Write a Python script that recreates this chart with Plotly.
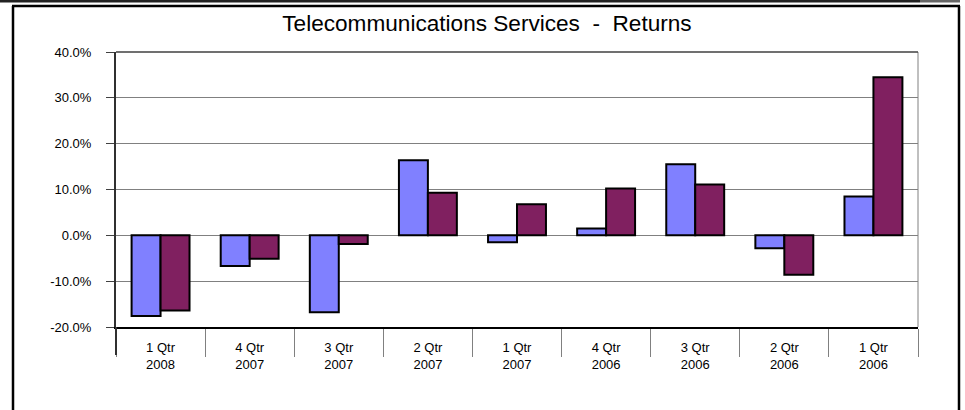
import plotly.graph_objects as go

# Quarterly returns, most recent quarter first
quarters = ["1 Qtr<br>2008", "4 Qtr<br>2007", "3 Qtr<br>2007", "2 Qtr<br>2007",
            "1 Qtr<br>2007", "4 Qtr<br>2006", "3 Qtr<br>2006", "2 Qtr<br>2006",
            "1 Qtr<br>2006"]
portfolio_returns = [-17.6, -6.7, -16.8, 16.4, -1.5, 1.5, 15.5, -2.8, 8.5]
sector_returns = [-16.4, -5.1, -1.9, 9.3, 6.8, 10.2, 11.1, -8.6, 34.5]
y_ticks = [-20, -10, 0, 10, 20, 30, 40]
y_tick_labels = [f"{v:.1f}%" for v in y_ticks]

W, H = 965, 410
L, R, T, B = 116, 47, 52, 83
pw, ph = W - L - R, H - T - B


def px_x(p):
    return (p - L) / pw


def px_y(p):
    return (H - B - p) / ph


fig = go.Figure()
fig.add_trace(go.Bar(
    x=quarters, y=[v / 100 for v in portfolio_returns], name="Portfolio",
    marker=dict(color="#8080FF", line=dict(color="#000000", width=2)),
))
fig.add_trace(go.Bar(
    x=quarters, y=[v / 100 for v in sector_returns], name="Sector",
    marker=dict(color="#802060", line=dict(color="#000000", width=2)),
))

font = "Arial, Liberation Sans, sans-serif"

fig.update_layout(
    width=W, height=H,
    margin=dict(l=L, r=R, t=T, b=B, pad=0),
    paper_bgcolor="white", plot_bgcolor="white",
    showlegend=False,
    barmode="group", bargap=0.35, bargroupgap=0,
    font=dict(family=font, color="#000000"),
    title=dict(text="Telecommunications Services  -  Returns",
               x=487 / W, xanchor="center", xref="container",
               y=1 - 23 / H, yanchor="middle", yref="container",
               font=dict(size=22.6, family=font, color="#000000")),
    xaxis=dict(
        type="category", tickson="boundaries",
        ticks="outside", ticklen=28, tickcolor="#808080", tickwidth=1,
        showline=True, linecolor="#000000", linewidth=2,
        showgrid=False, zeroline=False,
        tickfont=dict(size=13, family=font, color="#000000"),
        ticklabelstandoff=7,
        range=[-0.5, len(quarters) - 0.5],
    ),
    yaxis=dict(
        range=[y_ticks[0] / 100, y_ticks[-1] / 100],
        tickvals=[v / 100 for v in y_ticks], ticktext=y_tick_labels,
        ticks="outside", ticklen=8, tickcolor="#404040", tickwidth=1,
        showline=True, linecolor="#303030", linewidth=2,
        showgrid=True, gridcolor="#808080", gridwidth=1,
        zeroline=True, zerolinecolor="#808080", zerolinewidth=1,
        tickfont=dict(size=13, family=font, color="#000000"),
        ticklabelstandoff=12,
    ),
)

shapes = [
    # right edge of plot area
    dict(type="line", xref="paper", yref="paper", x0=1, x1=1, y0=0, y1=1,
         line=dict(color="#808080", width=1)),
    # top edge of plot area
    dict(type="line", xref="paper", yref="paper", x0=0, x1=1, y0=1, y1=1,
         line=dict(color="#404040", width=1.5)),
    # left axis line continued through the category band
    dict(type="line", xref="paper", yref="paper", x0=0, x1=0,
         y0=px_y(355), y1=0, line=dict(color="#303030", width=2)),
    # chart frame
    dict(type="line", xref="paper", yref="paper",
         x0=px_x(13), x1=px_x(13), y0=px_y(6), y1=px_y(H + 10),
         line=dict(color="#000000", width=2.5)),
    dict(type="line", xref="paper", yref="paper",
         x0=px_x(959), x1=px_x(959), y0=px_y(6), y1=px_y(H + 10),
         line=dict(color="#000000", width=2.5)),
    dict(type="line", xref="paper", yref="paper",
         x0=px_x(12), x1=px_x(960), y0=px_y(6), y1=px_y(6),
         line=dict(color="#000000", width=2.5)),
    # strip along the top edge
    dict(type="rect", xref="paper", yref="paper",
         x0=px_x(0), x1=px_x(920), y0=px_y(2.5), y1=px_y(0),
         fillcolor="#222222", line=dict(width=0)),
    dict(type="rect", xref="paper", yref="paper",
         x0=px_x(920), x1=px_x(960), y0=px_y(2.5), y1=px_y(0),
         fillcolor="#666666", line=dict(width=0)),
]
fig.update_layout(shapes=shapes)

fig.write_html("out.html")
